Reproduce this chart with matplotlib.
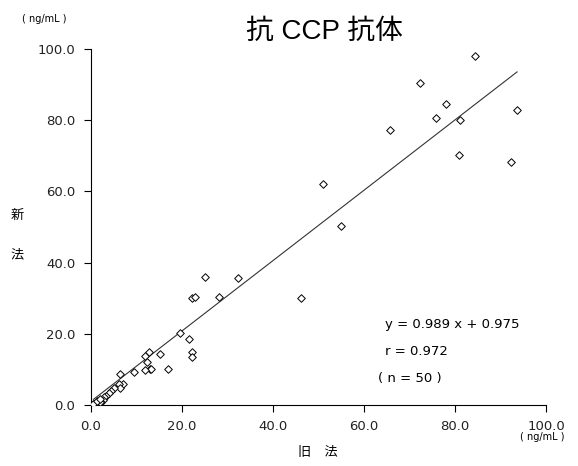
import matplotlib
matplotlib.use('Agg')
import matplotlib.pyplot as plt
import numpy as np

plt.rcParams['font.family'] = ['DejaVu Sans', 'Noto Sans CJK JP']

# old method (x) vs new method (y), ng/mL
old_method = [84.4, 72.2, 78.0, 75.9, 81.1, 93.6, 65.7, 80.9, 92.3, 51.1,
              54.9, 25.1, 32.3, 22.3, 22.8, 28.1, 46.2, 19.6, 21.6, 22.3,
              22.3, 12.8, 11.9, 15.2, 12.4, 13.0, 13.3, 12.0, 16.9, 6.4,
              9.6, 7.1, 6.1, 6.4, 5.2, 4.5, 3.9, 3.4, 3.0, 2.6,
              2.3, 1.5, 1.2, 1.0, 0.8, 1.8, 2.0, 0.6, 1.3, 2.1]
new_method = [98.1, 90.4, 84.5, 80.7, 80.1, 82.9, 77.3, 70.3, 68.2, 62.1,
              50.3, 35.9, 35.6, 30.1, 30.2, 30.3, 30.0, 20.3, 18.4, 15.0,
              13.6, 14.9, 13.8, 14.2, 12.2, 10.0, 10.0, 9.8, 10.1, 8.7,
              9.2, 5.8, 5.8, 4.7, 4.7, 4.0, 3.3, 2.5, 2.2, 1.4,
              0.9, 0.8, 0.5, 0.4, 0.3, 1.2, 0.7, 0.2, 1.0, 1.6]

slope = 0.989
intercept = 0.975
r_value = 0.972
ticks = [0, 20, 40, 60, 80, 100]

fig = plt.figure(figsize=(5.78, 4.66), dpi=100)
ax = fig.add_axes([0.157, 0.131, 0.788, 0.764])

ax.scatter(old_method, new_method, marker='D', s=15, facecolors='white',
           edgecolors='black', linewidths=0.7, zorder=3)

# regression line over the data range
xs = np.array([min(old_method), max(old_method)])
ax.plot(xs, slope * xs + intercept, color='#333333', linewidth=0.8, zorder=2)

ax.set_xlim(0, 100)
ax.set_ylim(0, 100)
ax.set_xticks(ticks)
ax.set_yticks(ticks)
ax.set_xticklabels([f'{t:.1f}' for t in ticks])
ax.set_yticklabels([f'{t:.1f}' for t in ticks])
ax.tick_params(direction='out', length=5, width=0.8, labelsize=9.5, pad=6,
               labelcolor='#222222')
for side in ['top', 'right']:
    ax.spines[side].set_visible(False)

fig.text(0.562, 0.932, '抗 CCP 抗体', fontsize=20, ha='center', va='center',
         family=['Liberation Sans', 'Noto Sans CJK JP'])
fig.text(0.038, 0.959, '( ng/mL )', fontsize=7, ha='left', va='center')
fig.text(0.9, 0.062, '( ng/mL )', fontsize=7, ha='left', va='center')
fig.text(0.03, 0.538, '新', fontsize=9.5, ha='center', va='center')
fig.text(0.03, 0.453, '法', fontsize=9.5, ha='center', va='center')
fig.text(0.55, 0.028, '旧　法', fontsize=9.5, ha='center', va='center')

ax.text(0.647, 0.227, f'y = {slope} x + {intercept}', transform=ax.transAxes,
        fontsize=9.5, va='center')
ax.text(0.647, 0.151, f'r = {r_value}', transform=ax.transAxes,
        fontsize=9.5, va='center')
ax.text(0.631, 0.075, '( n = 50 )', transform=ax.transAxes,
        fontsize=9.5, va='center')

fig.savefig('out.png', dpi=100)
